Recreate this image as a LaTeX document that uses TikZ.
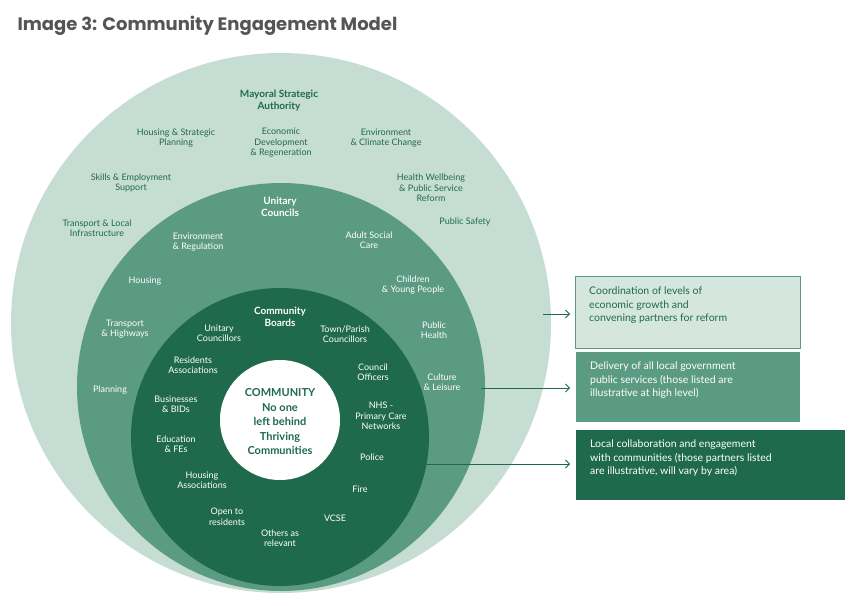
\documentclass[tikz,border=0pt]{standalone}
\usepackage{fontspec}
\setmainfont{Lato}
\newfontfamily\ttl{Poppins}
\usetikzlibrary{arrows.meta}
\definecolor{cOut}{HTML}{C6DDD3}
\definecolor{cMid}{HTML}{5B9A83}
\definecolor{cIn}{HTML}{1F6A4C}
\definecolor{cTitle}{HTML}{555555}
\tikzset{
 o/.style={align=center,text=cIn,font=\fontsize{9}{10.5}\selectfont},
 w/.style={align=center,text=white,font=\fontsize{9}{10.5}\selectfont},
 hd/.style={font=\fontsize{10}{12}\selectfont\bfseries},
 box/.style={anchor=north west,inner sep=0pt,align=left,font=\fontsize{10.5}{13.5}\selectfont},
 arr/.style={-{Straight Barb[length=4pt]},cIn,line width=0.8pt}
}
\begin{document}
\begin{tikzpicture}[x=1pt,y=-1pt]
\useasboundingbox[fill=white] (0,0) rectangle (850,605);
\node[anchor=west,text=cTitle,font=\ttl\fontsize{18}{20}\selectfont\bfseries] (title) at (14,26) {Image 3: Community Engagement Model};
\fill[cOut] (281,323) circle (270);
\fill[cMid] (281,387) circle (204);
\fill[cIn] (280,437) circle (149);
\fill[white] (280,420) circle (60);
% outer ring
\node[o,hd] (msa) at (279,101) {Mayoral Strategic\\Authority};
\node[o] (hsp) at (176,138) {Housing \& Strategic\\Planning};
\node[o] (edr) at (281,143) {Economic\\Development\\\& Regeneration};
\node[o] (ecc) at (386,138) {Environment\\\& Climate Change};
\node[o] (ses) at (131,183) {Skills \& Employment\\Support};
\node[o] (hwp) at (431,188) {Health Wellbeing\\\& Public Service\\Reform};
\node[o] (tli) at (97,228) {Transport \& Local\\Infrastructure};
\node[o] (ps) at (465,222) {Public Safety};
% middle ring
\node[w,hd] (uc) at (280,207) {Unitary\\Councils};
\node[w] (er) at (198,242) {Environment\\\& Regulation};
\node[w] (asc) at (369,240) {Adult Social\\Care};
\node[w] (hou) at (145,281) {Housing};
\node[w] (cyp) at (413,285) {Children\\\& Young People};
\node[w] (th) at (125,329) {Transport\\\& Highways};
\node[w] (ph) at (434,330) {Public\\Health};
\node[w] (pl) at (110,390) {Planning};
\node[w] (cl) at (442,382) {Culture\\\& Leisure};
% inner ring
\node[w,hd] (cb) at (280,317) {Community\\Boards};
\node[w] (ucl) at (219,333) {Unitary\\Councillors};
\node[w] (tpc) at (345,334) {Town/Parish\\Councillors};
\node[w] (ra) at (193,365) {Residents\\Associations};
\node[w] (co) at (373,372) {Council\\Officers};
\node[w] (bb) at (176,404) {Businesses\\\& BIDs};
\node[w] (nhs) at (381,416) {NHS -\\Primary Care\\Networks};
\node[w] (ef) at (176,444) {Education\\\& FEs};
\node[w] (pol) at (372,457) {Police};
\node[w] (ha) at (202,480) {Housing\\Associations};
\node[w] (fire) at (360,489) {Fire};
\node[w] (otr) at (227,517) {Open to\\residents};
\node[w] (vcse) at (335,518) {VCSE};
\node[w] (oar) at (280,538) {Others as\\relevant};
\node[align=center,text=cIn,font=\fontsize{11}{14.5}\selectfont\bfseries] (com) at (280,422) {COMMUNITY\\No one\\left behind\\Thriving\\Communities};
% boxes
\draw[cMid,fill=cOut!75,line width=0.6pt] (575,276) rectangle (800,348);
\node[box,text=cIn] (b1) at (589,287) {Coordination of levels of\\economic growth and\\convening partners for reform};
\fill[cMid] (576,352) rectangle (800,422);
\node[box,text=white] (b2) at (590,362) {Delivery of all local government\\public services (those listed are\\illustrative at high level)};
\fill[cIn] (576,430) rectangle (845,500);
\node[box,text=white] (b3) at (590,440) {Local collaboration and engagement\\with communities (those partners listed\\are illustrative, will vary by area)};
\coordinate (a1s) at (543,314); \coordinate (a1e) at (570,314);
\coordinate (a2s) at (481,388); \coordinate (a2e) at (570,388);
\coordinate (a3s) at (412,464); \coordinate (a3e) at (570,464);
\draw[arr] (a1s) -- (a1e);
\draw[arr] (a2s) -- (a2e);
\draw[arr] (a3s) -- (a3e);
\end{tikzpicture}
\end{document}
